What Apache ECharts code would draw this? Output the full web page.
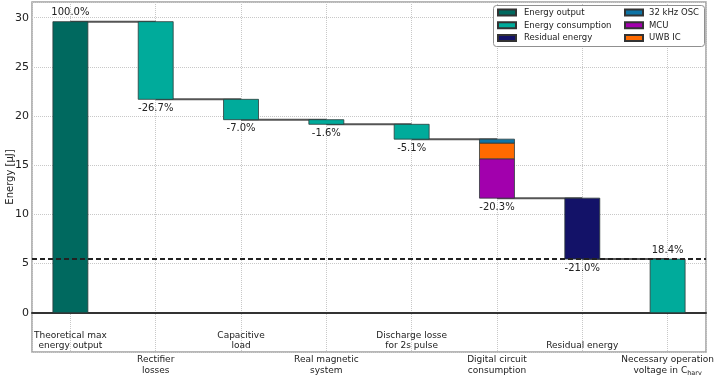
<!DOCTYPE html>
<html>
<head>
<meta charset="utf-8">
<script src="https://cdn.jsdelivr.net/npm/echarts@6/dist/echarts.min.js"></script>
<style>html,body{margin:0;padding:0;background:#fff}#c{width:717px;height:376px}</style>
</head>
<body>
<div id="c"></div>
<script>
// ---- data ----
const categories = [
  ['Theoretical max', 'energy output'],
  ['Rectifier', 'losses'],
  ['Capacitive', 'load'],
  ['Real magnetic', 'system'],
  ['Discharge losse', 'for 2s pulse'],
  ['Digital circuit', 'consumption'],
  ['Residual energy'],
  ['Necessary operation', 'voltage in C_harv']
];
const totalEnergy = 29.6;                       // µJ, theoretical max
const consumptionLosses = [7.9, 2.07, 0.47, 1.51]; // rectifier, capacitive, magnetic, discharge
const digitalMCU = 4.0;
const digitalUWB = 1.6;
const digitalOSC = 0.4;
const residualEnergy = 6.2;
const necessaryEnergy = 5.45;
const percentLabels = ['100.0%', '-26.7%', '-7.0%', '-1.6%', '-5.1%', '-20.3%', '-21.0%', '18.4%'];
const yTicks = [0, 5, 10, 15, 20, 25, 30];

// ---- build waterfall ----
const FONT = 'DejaVu Sans';
const levels = [totalEnergy];
consumptionLosses.forEach(v => levels.push(levels[levels.length - 1] - v));
const digitalTop = levels[levels.length - 1];
levels.push(digitalTop - (digitalMCU + digitalUWB + digitalOSC));
levels.push(necessaryEnergy);

const outputData = [[0, 0, totalEnergy]];
const consData = consumptionLosses.map((v, i) => [i + 1, levels[i + 1], levels[i]]);
consData.push([7, 0, necessaryEnergy]);
const mcuData = [[5, levels[5], levels[5] + digitalMCU]];
const uwbData = [[5, levels[5] + digitalMCU, levels[5] + digitalMCU + digitalUWB]];
const oscData = [[5, levels[5] + digitalMCU + digitalUWB, digitalTop]];
const residualData = [[6, necessaryEnergy, levels[5]]];
const connectorData = levels.map((l, i) => [i, l]);
const labelData = percentLabels.map((t, i) => {
  if (i === 0) return [0, totalEnergy, 1, i];
  if (i === 7) return [7, necessaryEnergy, 1, i];
  return [i, levels[i], -1, i];
});

const XMIN = -0.45, XMAX = 7.45, BARW = 0.41;

function barSeries(name, color, data) {
  return {
    name, type: 'custom', data, z: 3,
    itemStyle: { color, borderColor: '#333', borderWidth: 0.8 },
    encode: { x: 0, y: [1, 2] },
    renderItem: function (params, api) {
      const x = api.value(0), lo = api.value(1), hi = api.value(2);
      const w = api.size([BARW, 0])[0];
      const p = api.coord([x, hi]), q = api.coord([x, lo]);
      return { type: 'rect', shape: { x: p[0] - w / 2, y: p[1], width: w, height: q[1] - p[1] },
        style: { fill: color, stroke: '#2e3b3a', lineWidth: 0.8 } };
    }
  };
}

const chart = echarts.init(document.getElementById('c'));
chart.setOption({
  animation: false,
  backgroundColor: '#fff',
  grid: { left: 32, right: 11, top: 2, bottom: 24, show: true, borderColor: '#a0a0a0', borderWidth: 1.5,
    containLabel: false, outerBoundsMode: 'none' },
  xAxis: {
    type: 'value', min: XMIN, max: XMAX, splitNumber: 8,
    axisLine: { onZero: true, lineStyle: { color: '#333', width: 2 } },
    axisTick: { show: false },
    splitLine: { show: true, lineStyle: { type: 'dotted', color: '#c8c8c8', width: 1 } },
    axisLabel: {
      margin: -22,
      formatter: function (v) {
        if (Math.abs(v - Math.round(v)) > 1e-6) return '';
        const i = Math.round(v);
        const lines = categories[i];
        if (!lines) return '';
        const fmt = lines.map(s => {
          const k = s.indexOf('_');
          if (k >= 0) return '{t|' + s.slice(0, k) + '}{sub|' + s.slice(k + 1) + '}';
          return '{t|' + s + '}';
        });
        if (lines.length === 1) return '{g1| }\n' + fmt.join('\n');
        if (i % 2 === 1) return '{g2| }\n' + fmt.join('\n');
        return fmt.join('\n');
      },
      rich: {
        t: { fontSize: 9, lineHeight: 10.5, fontFamily: FONT, color: '#222', align: 'center' },
        sub: { fontSize: 6.5, lineHeight: 10.5, fontFamily: FONT, color: '#222', verticalAlign: 'bottom', padding: [0, 0, -1, 0] },
        g1: { fontSize: 9, lineHeight: 10.5 },
        g2: { fontSize: 9, lineHeight: 24.5 }
      }
    }
  },
  yAxis: {
    type: 'value', min: -4, max: 31.6, splitNumber: 7,
    name: 'Energy [µJ]', nameLocation: 'middle', nameGap: 17, nameRotate: 90, nameMoveOverlap: false,
    nameTextStyle: { fontSize: 10, fontFamily: FONT, color: '#222' },
    axisLine: { show: false }, axisTick: { show: false },
    splitLine: { show: true, lineStyle: { type: 'dotted', color: '#c8c8c8', width: 1 } },
    axisLabel: {
      margin: 3, fontSize: 11, fontFamily: FONT, color: '#222',
      formatter: v => (yTicks.indexOf(v) >= 0 ? String(v) : '')
    }
  },
  graphic: [{ type: 'rect', left: 493, top: 5, z: 50, shape: { width: 211, height: 41, r: 3 },
    style: { fill: '#fff', stroke: '#909090', lineWidth: 1 } }],
  legend: [
    { data: ['Energy output', 'Energy consumption', 'Residual energy'], orient: 'vertical', left: 497, top: 7.5,
      z: 60, padding: 0, itemWidth: 18, itemHeight: 6, itemGap: 2.8, icon: 'rect',
      textStyle: { fontSize: 8.5, lineHeight: 10, fontFamily: FONT, color: '#222', padding: [0, 0, 0, 3] } },
    { data: ['32 kHz OSC', 'MCU', 'UWB IC'], orient: 'vertical', left: 624, top: 7.5,
      z: 60, padding: 0, itemWidth: 18, itemHeight: 6, itemGap: 2.8, icon: 'rect',
      textStyle: { fontSize: 8.5, lineHeight: 10, fontFamily: FONT, color: '#222', padding: [0, 0, 0, 1] } }
  ],
  series: [
    {
      name: 'connectors', type: 'custom', data: connectorData, z: 2, silent: true,
      renderItem: function (params, api) {
        const i = api.value(0), l = api.value(1);
        const a = api.coord([i, l]), b = api.coord([i + 1, l]);
        return { type: 'line', shape: { x1: a[0], y1: a[1], x2: b[0], y2: b[1] },
          style: { stroke: '#555', lineWidth: 2 } };
      }
    },
    {
      name: 'necessary', type: 'custom', data: [[necessaryEnergy]], z: 4, silent: true,
      renderItem: function (params, api) {
        const y = api.value(0);
        const a = api.coord([XMIN, y]), b = api.coord([XMAX, y]);
        return { type: 'line', shape: { x1: a[0], y1: a[1], x2: b[0], y2: b[1] },
          style: { stroke: '#222', lineWidth: 2, lineDash: [5, 3] } };
      }
    },
    barSeries('Energy output', '#00695f', outputData),
    barSeries('Energy consumption', '#00ab9b', consData),
    barSeries('Residual energy', '#131268', residualData),
    barSeries('MCU', '#a200ad', mcuData),
    barSeries('UWB IC', '#ff6a00', uwbData),
    barSeries('32 kHz OSC', '#0d74a6', oscData),
    {
      name: 'pct', type: 'custom', data: labelData, z: 5, silent: true,
      renderItem: function (params, api) {
        const x = api.value(0), y = api.value(1), dir = api.value(2), idx = api.value(3);
        const p = api.coord([x, y]);
        return { type: 'text', x: p[0], y: p[1] - dir * 4,
          style: { text: percentLabels[idx], align: 'center', verticalAlign: dir > 0 ? 'bottom' : 'top',
            fontSize: 10, fontFamily: FONT, fill: '#222' } };
      }
    }
  ]
});
</script>
</body>
</html>
